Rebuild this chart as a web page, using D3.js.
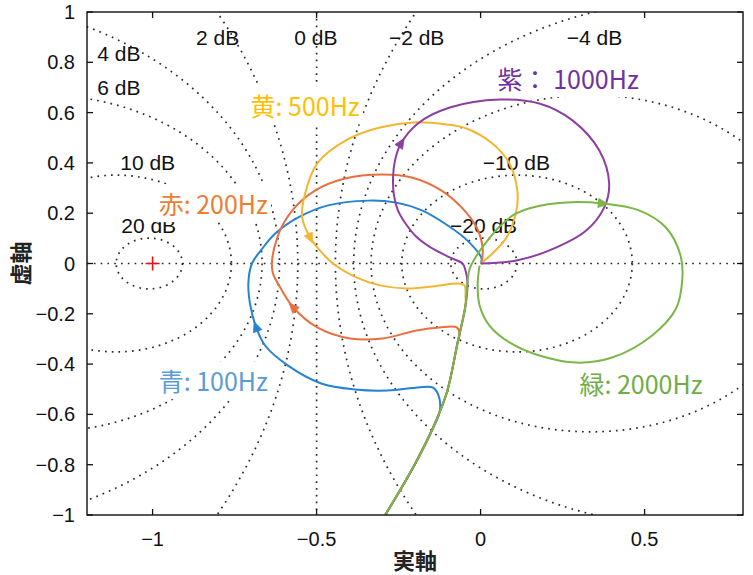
<!DOCTYPE html>
<html>
<head>
<meta charset="UTF-8">
<title>Nyquist</title>
<script src="https://cdn.jsdelivr.net/npm/d3@7"></script>
<style>
body { margin: 0; background: #fff; }
text { font-family: "Liberation Sans", Arial, sans-serif; }
.jp { font-family: "Noto Sans CJK JP", sans-serif; }
</style>
</head>
<body>
<script>
// ticks
var xTicks = [-1, -0.5, 0, 0.5];
var yTicks = [-1, -0.8, -0.6, -0.4, -0.2, 0, 0.2, 0.4, 0.6, 0.8, 1];

// closed loop gain circles, dB
var mCircles = [20, 10, 6, 4, 2, 0, -2, -4, -6, -10, -20];
var dbLabels = [
    ["2 dB", -0.802, 0.899], ["0 dB", -0.502, 0.899], ["\u22122 dB", -0.195, 0.899],
    ["\u22124 dB", 0.347, 0.899], ["4 dB", -1.103, 0.835], ["6 dB", -1.103, 0.700],
    ["10 dB", -1.015, 0.402], ["20 dB", -1.012, 0.151],
    ["\u221210 dB", 0.109, 0.402], ["\u221220 dB", 0.009, 0.151]
];

// common part of every curve (from the bottom up to the origin)
var stem = [[-0.307, -1.034], [-0.246, -0.903], [-0.191, -0.775], [-0.146, -0.656],
    [-0.103, -0.513], [-0.070, -0.314], [-0.046, -0.167], [-0.040, -0.076]];

var blueLoop = [[-0.125, -0.592], [-0.128, -0.525], [-0.146, -0.493], [-0.191, -0.493],
    [-0.283, -0.505], [-0.383, -0.501], [-0.486, -0.477], [-0.587, -0.406], [-0.657, -0.326],
    [-0.684, -0.254], [-0.702, -0.167], [-0.708, -0.076], [-0.697, 0.0], [-0.668, 0.055],
    [-0.626, 0.119], [-0.556, 0.183], [-0.465, 0.231], [-0.343, 0.250], [-0.261, 0.243],
    [-0.179, 0.211], [-0.100, 0.151], [-0.040, 0.091], [0.003, 0.020], [0.0, 0.0]];

var orangeLoop = [[-0.064, -0.278], [-0.073, -0.254], [-0.125, -0.254], [-0.195, -0.266],
    [-0.298, -0.298], [-0.398, -0.298], [-0.498, -0.254], [-0.571, -0.175], [-0.611, -0.095],
    [-0.635, -0.028], [-0.620, 0.103], [-0.574, 0.211], [-0.505, 0.290], [-0.413, 0.338],
    [-0.301, 0.354], [-0.210, 0.342], [-0.119, 0.290], [-0.058, 0.223], [-0.012, 0.143],
    [0.006, 0.064], [0.003, 0.0]];

var yellowLoop = [[-0.046, -0.131], [-0.049, -0.087], [-0.064, -0.080], [-0.146, -0.091],
    [-0.225, -0.099], [-0.307, -0.087], [-0.377, -0.056], [-0.450, 0.0], [-0.498, 0.064],
    [-0.520, 0.103], [-0.544, 0.183], [-0.535, 0.278], [-0.497, 0.400], [-0.407, 0.493],
    [-0.307, 0.541], [-0.207, 0.561], [-0.103, 0.553], [-0.043, 0.537],
    [0.036, 0.477], [0.088, 0.398], [0.112, 0.290], [0.109, 0.211], [0.079, 0.103],
    [0.036, 0.040], [0.0, 0.0]];

var purpleLoop = [[-0.046, -0.028], [-0.055, 0.0], [-0.094, 0.024], [-0.155, 0.066],
    [-0.195, 0.105], [-0.231, 0.163], [-0.252, 0.211], [-0.264, 0.270], [-0.267, 0.342],
    [-0.261, 0.410], [-0.243, 0.477], [-0.191, 0.557], [-0.094, 0.620], [0.058, 0.652],
    [0.179, 0.636], [0.280, 0.569], [0.362, 0.449], [0.392, 0.318], [0.377, 0.223],
    [0.322, 0.131], [0.210, 0.052], [0.109, 0.012], [0.0, 0.0]];

var greenLoop = [[-0.033, -0.020], [-0.012, 0.032], [0.021, 0.091], [0.058, 0.147],
    [0.103, 0.195], [0.158, 0.223], [0.261, 0.243], [0.371, 0.239], [0.483, 0.211],
    [0.565, 0.143], [0.610, 0.030], [0.615, -0.060], [0.596, -0.179], [0.523, -0.286],
    [0.401, -0.374], [0.292, -0.394], [0.179, -0.366], [0.088, -0.314], [0.027, -0.247],
    [-0.003, -0.167], [-0.009, -0.087], [-0.003, -0.008]];

var series = [
    {text: "青: 100Hz", color: "#2483d2", textColor: "#5b9bd5", stemN: 4, loop: blueLoop, arrow: 9, rev: false, at: [-0.815, -0.473]},
    {text: "赤: 200Hz", color: "#e8703f", textColor: "#ed7d31", stemN: 6, loop: orangeLoop, arrow: 7, rev: false, at: [-0.815, 0.231]},
    {text: "黄: 500Hz", color: "#f2b630", textColor: "#ffc000", stemN: 7, loop: yellowLoop, arrow: 9, rev: true, at: [-0.535, 0.620]},
    {text: "紫： 1000Hz", color: "#8c3fa0", textColor: "#7030a0", stemN: 8, loop: purpleLoop, arrow: 10, rev: false, at: [0.267, 0.728]},
    {text: "緑: 2000Hz", color: "#7ab648", textColor: "#70ad47", stemN: 8, loop: greenLoop, arrow: 7, rev: false, at: [0.489, -0.485]}
];

var W = 753, H = 575;
var pL = 87, pR = 743, pT = 12, pB = 515;

var x = d3.scaleLinear().domain([-1.2, 0.8]).range([pL, pR]);
var y = d3.scaleLinear().domain([-1, 1]).range([pB, pT]);

var svg = d3.select("body").append("svg")
        .attr("width", W).attr("height", H);

svg.append("clipPath").attr("id", "plot")
        .append("rect").attr("x", pL).attr("y", pT)
        .attr("width", pR - pL).attr("height", pB - pT);

var grid = svg.append("g").attr("clip-path", "url(#plot)")
        .attr("fill", "none").attr("stroke", "#2a2a2a")
        .attr("stroke-width", 1.7).attr("stroke-dasharray", "1.7,5.1");

// real axis
grid.append("line").attr("x1", pL).attr("x2", pR)
        .attr("y1", y(0)).attr("y2", y(0));

mCircles.forEach(function (db) {
    if (db === 0) {
        grid.append("line").attr("x1", x(-0.5)).attr("x2", x(-0.5))
                .attr("y1", pT).attr("y2", pB);
        return;
    }
    var m = Math.pow(10, db / 20);
    var c = -m * m / (m * m - 1);
    var r = Math.abs(m / (m * m - 1));
    grid.append("ellipse")
            .attr("cx", x(c)).attr("cy", y(0))
            .attr("rx", x(r) - x(0)).attr("ry", y(0) - y(r));
});

svg.selectAll(".dbl").data(dbLabels).enter().append("text")
        .attr("x", function (d) { return x(d[1]); })
        .attr("y", function (d) { return y(d[2]); })
        .attr("dy", "0.35em").attr("text-anchor", "middle")
        .attr("font-size", 21).attr("fill", "#111")
        .text(function (d) { return d[0]; });

// critical point
svg.append("path")
        .attr("d", "M" + (x(-1) - 7) + "," + y(0) + "h14M" + x(-1) + "," + (y(0) - 7) + "v14")
        .attr("stroke", "#f01010").attr("stroke-width", 1.6);

var line = d3.line()
        .x(function (d) { return x(d[0]); })
        .y(function (d) { return y(d[1]); })
        .curve(d3.curveCatmullRom.alpha(0.5));

var curves = svg.append("g").attr("clip-path", "url(#plot)");

series.forEach(function (s) {
    var pts = stem.slice(0, s.stemN).concat(s.loop);
    curves.append("path").attr("d", line(pts))
            .attr("fill", "none").attr("stroke", s.color)
            .attr("stroke-width", 2).attr("stroke-linejoin", "round");

    var i = s.stemN + s.arrow;
    var px = x(pts[i][0]), py = y(pts[i][1]);
    var dx = x(pts[i + 1][0]) - x(pts[i - 1][0]);
    var dy = y(pts[i + 1][1]) - y(pts[i - 1][1]);
    var len = Math.sqrt(dx * dx + dy * dy);
    dx /= len; dy /= len;
    if (s.rev) { dx = -dx; dy = -dy; }
    var tri = [[px + dx * 6, py + dy * 6],
        [px - dx * 4 - dy * 4.5, py - dy * 4 + dx * 4.5],
        [px - dx * 4 + dy * 4.5, py - dy * 4 - dx * 4.5]];
    curves.append("path").attr("d", "M" + tri.join("L") + "Z")
            .attr("fill", s.color).attr("stroke", s.color).attr("stroke-width", 0.8);
});

// frame and ticks
svg.append("rect").attr("x", pL).attr("y", pT)
        .attr("width", pR - pL).attr("height", pB - pT)
        .attr("fill", "none").attr("stroke", "#111").attr("stroke-width", 1.4);

var ticks = svg.append("g").attr("stroke", "#111").attr("stroke-width", 1.3);
xTicks.forEach(function (v) {
    ticks.append("line").attr("x1", x(v)).attr("x2", x(v)).attr("y1", pB).attr("y2", pB - 6);
    ticks.append("line").attr("x1", x(v)).attr("x2", x(v)).attr("y1", pT).attr("y2", pT + 6);
});
yTicks.forEach(function (v) {
    ticks.append("line").attr("x1", pL).attr("x2", pL + 6).attr("y1", y(v)).attr("y2", y(v));
    ticks.append("line").attr("x1", pR).attr("x2", pR - 6).attr("y1", y(v)).attr("y2", y(v));
});

var fmt = function (v) { return String(v).replace("-", "\u2212"); };

svg.selectAll(".xt").data(xTicks).enter().append("text")
        .attr("x", function (d) { return x(d); }).attr("y", 539)
        .attr("dy", "0.35em").attr("text-anchor", "middle")
        .attr("font-size", 20).attr("fill", "#111").text(fmt);

svg.selectAll(".yt").data(yTicks).enter().append("text")
        .attr("x", 75).attr("y", function (d) { return y(d); })
        .attr("dy", "0.35em").attr("text-anchor", "end")
        .attr("font-size", 20).attr("fill", "#111").text(fmt);

svg.append("text").attr("class", "jp")
        .attr("x", (pL + pR) / 2).attr("y", 561).attr("dy", "0.35em")
        .attr("text-anchor", "middle").attr("font-size", 22).attr("font-weight", "bold")
        .attr("fill", "#222").text("実軸");

svg.append("text").attr("class", "jp")
        .attr("transform", "translate(21," + y(0) + ") rotate(-90)")
        .attr("dy", "0.35em").attr("text-anchor", "middle")
        .attr("font-size", 22).attr("font-weight", "bold")
        .attr("fill", "#222").text("虚軸");

// frequency notes on white boxes
series.forEach(function (s) {
    var g = svg.append("g");
    var t = g.append("text").attr("class", "jp")
            .attr("x", x(s.at[0])).attr("y", y(s.at[1]))
            .attr("dy", "0.35em").attr("text-anchor", "middle")
            .attr("font-size", 25).attr("fill", s.textColor).text(s.text);
    var b = t.node().getBBox();
    g.insert("rect", "text").attr("x", b.x - 3).attr("y", b.y - 1)
            .attr("width", b.width + 6).attr("height", b.height + 2)
            .attr("fill", "#fff");
});
</script>
</body>
</html>
